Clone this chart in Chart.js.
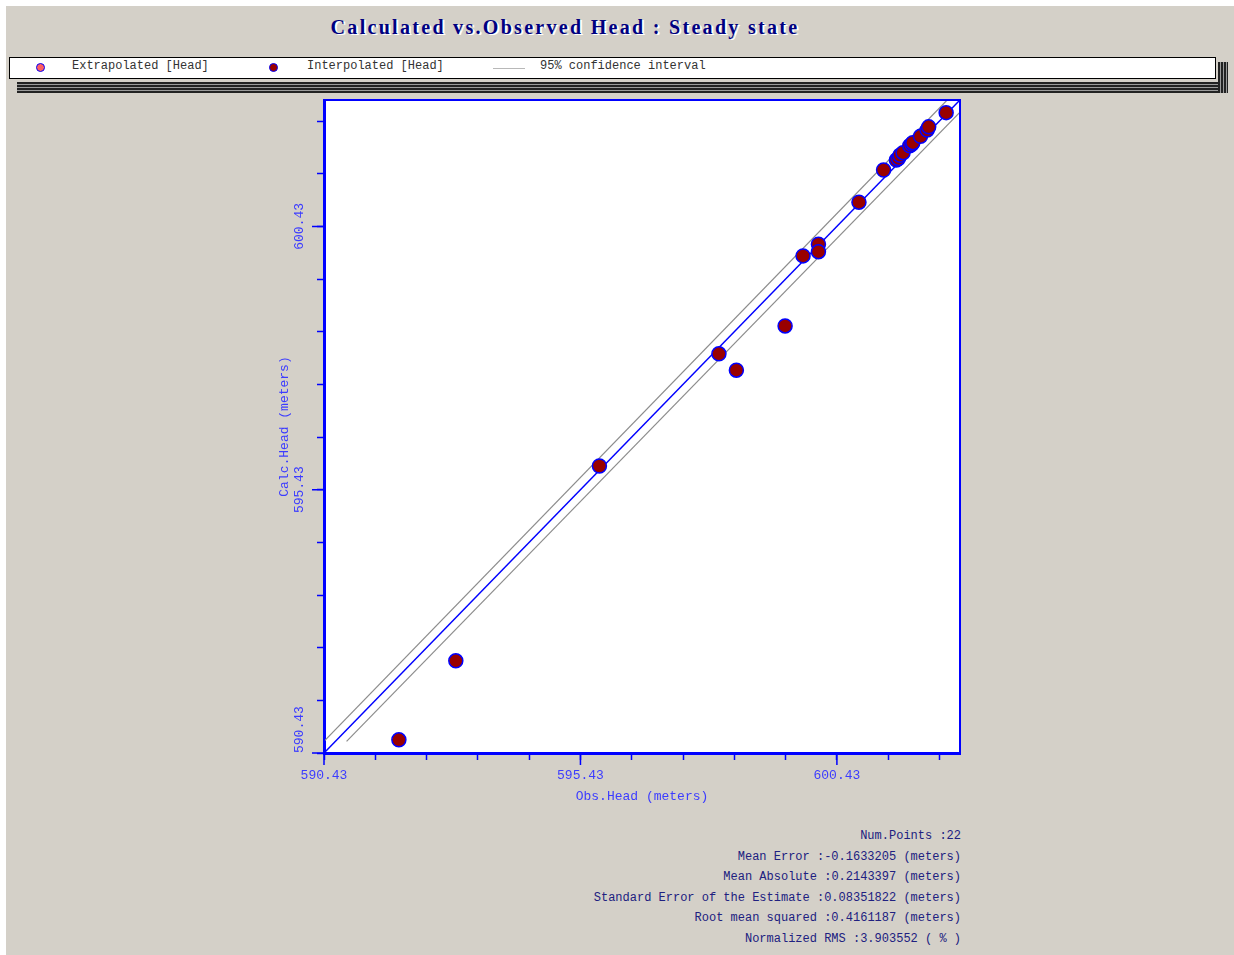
<!DOCTYPE html>
<html>
<head>
<meta charset="utf-8">
<title>Calculated vs. Observed Head : Steady state</title>
<script src="https://cdn.jsdelivr.net/npm/chart.js@4.4.0/dist/chart.umd.min.js"></script>
<style>
  body { margin: 0; background: #fff; width: 1234px; height: 955px; overflow: hidden; }
  #page { position: absolute; left: 6px; top: 6px; width: 1228px; height: 949px; background: #d4d0c8; }
  #chart { position: absolute; left: 0; top: 0; }
  #title { position: absolute; left: 265px; width: 600px; top: 14px; text-align: center;
    font: bold 20px "Liberation Serif", serif; line-height: 26px; letter-spacing: 2.3px; color: #000080; text-shadow: 2px 1px 0 #fff; }
  #legend { position: absolute; left: 9px; top: 57px; width: 1207px; height: 22px; box-sizing: border-box;
    border: 1px solid #000; background: #fff; font: 12px "Liberation Mono", monospace; color: #333; }
  #legend span { position: absolute; top: 1px; line-height: 14px; white-space: pre; }
  .dot { position: absolute; width: 7px; height: 7px; border-radius: 50%; border: 1.5px solid #0000ff; top: 5px; }
  .shadow-b { position: absolute; left: 17px; top: 82px; width: 1211px; height: 11px;
    background: repeating-linear-gradient(to bottom, #222 0 2px, #9a9a9a 2px 3px); }
  .shadow-r { position: absolute; left: 1218px; top: 62px; width: 10px; height: 31px;
    background: repeating-linear-gradient(to right, #222 0 2px, #9a9a9a 2px 3px); }
  #stats { position: absolute; right: 273px; top: 826px; text-align: right;
    font: 12px "Liberation Mono", monospace; line-height: 20.6px; color: #202080; white-space: pre; }
</style>
</head>
<body>
<div id="page"></div>
<div class="shadow-b"></div>
<div class="shadow-r"></div>
<div id="title">Calculated vs.Observed Head : Steady state</div>
<div id="legend">
  <div class="dot" style="left:26px; background:#ff6060;"></div>
  <span style="left:62px;">Extrapolated [Head]</span>
  <div class="dot" style="left:259px; background:#990000;"></div>
  <span style="left:297px;">Interpolated [Head]</span>
  <div style="position:absolute; left:483px; top:10px; width:32px; height:1px; background:#b8b8b8;"></div>
  <span style="left:530px;">95% confidence interval</span>
</div>
<div id="stats"></div>
<canvas id="chart" width="1234" height="955"></canvas>
<script>
// observed vs calculated head (meters)
const obsHead = [591.89, 593.00, 595.80, 598.13, 598.47, 599.42, 599.77, 600.07, 600.07, 600.86, 601.34,
                 601.59, 601.63, 601.66, 601.72, 601.85, 601.89, 601.91, 602.06, 602.19, 602.22, 602.56];
const calcHead = [590.68, 592.18, 595.88, 598.01, 597.70, 598.54, 599.87, 600.09, 599.95, 600.89, 601.50,
                  601.69, 601.72, 601.78, 601.83, 601.96, 601.99, 602.02, 602.14, 602.26, 602.32, 602.59];

// axis range and ticks
const axisMin = 590.43;
const axisMax = 602.83;
const tickValues = [590.43, 591.43, 592.43, 593.43, 594.43, 595.43, 596.43, 597.43, 598.43, 599.43, 600.43, 601.43, 602.43];
const majorTicks = [590.43, 595.43, 600.43];

// 1:1 line and 95% confidence band
const perfectX = [590.43, 602.83];
const perfectY = [590.43, 602.83];
const upperX = [590.43, 602.58];
const upperY = [590.65, 602.83];
const lowerX = [590.87, 602.83];
const lowerY = [590.65, 602.60];

const statLines = [
  'Num.Points :22',
  'Mean Error :-0.1633205 (meters)',
  'Mean Absolute :0.2143397 (meters)',
  'Standard Error of the Estimate :0.08351822 (meters)',
  'Root mean squared :0.4161187 (meters)',
  'Normalized RMS :3.903552 ( % )'
];
document.getElementById('stats').textContent = statLines.join('\n');

const axisColor = '#3c3cff';
const toPoints = (xs, ys) => xs.map((v, i) => ({ x: v, y: ys[i] }));

const framePlugin = {
  id: 'frame',
  beforeDraw(chart) {
    const { ctx, chartArea: a } = chart;
    ctx.save();
    ctx.fillStyle = '#fff';
    ctx.fillRect(a.left, a.top, a.right - a.left, a.bottom - a.top);
    ctx.restore();
  },
  afterDraw(chart) {
    const { ctx, chartArea: a, scales: { x, y } } = chart;
    ctx.save();
    ctx.strokeStyle = '#0000ff';
    ctx.lineWidth = 2;
    ctx.strokeRect(a.left, a.top, a.right - a.left, a.bottom - a.top);

    // longer ticks at labelled values
    ctx.lineWidth = 1.5;
    ctx.beginPath();
    majorTicks.forEach(v => {
      const px = x.getPixelForValue(v);
      const py = y.getPixelForValue(v);
      ctx.moveTo(px, a.bottom);
      ctx.lineTo(px, a.bottom + 12);
      ctx.moveTo(a.left, py);
      ctx.lineTo(a.left - 12, py);
    });
    ctx.stroke();

    // y labels are written sideways
    ctx.fillStyle = axisColor;
    ctx.font = '13px "Liberation Mono"';
    ctx.textBaseline = 'middle';
    majorTicks.forEach((v, i) => {
      ctx.save();
      ctx.translate(a.left - 24, y.getPixelForValue(v));
      ctx.rotate(-Math.PI / 2);
      ctx.textAlign = i === 0 ? 'left' : 'center';
      ctx.fillText(v.toFixed(2), 0, 0);
      ctx.restore();
    });
    ctx.restore();
  }
};

const axisFont = { family: '"Liberation Mono", monospace', size: 13 };

new Chart(document.getElementById('chart'), {
  type: 'scatter',
  data: {
    datasets: [
      {
        label: 'Interpolated [Head]',
        data: toPoints(obsHead, calcHead),
        pointRadius: 7,
        pointBackgroundColor: '#990000',
        pointBorderColor: '#0000ff',
        pointBorderWidth: 1.5,
        showLine: false
      },
      {
        label: '1:1',
        data: toPoints(perfectX, perfectY),
        showLine: true,
        borderColor: '#0000ff',
        borderWidth: 1.5,
        pointRadius: 0
      },
      {
        label: '95% confidence interval',
        data: toPoints(upperX, upperY),
        showLine: true,
        borderColor: '#8c8c8c',
        borderWidth: 1.2,
        pointRadius: 0
      },
      {
        label: '95% confidence interval (lower)',
        data: toPoints(lowerX, lowerY),
        showLine: true,
        borderColor: '#8c8c8c',
        borderWidth: 1.2,
        pointRadius: 0
      }
    ]
  },
  options: {
    responsive: false,
    animation: false,
    devicePixelRatio: 1,
    layout: { padding: { left: 274, top: 100, right: 274, bottom: 147 } },
    plugins: {
      legend: { display: false },
      tooltip: { enabled: false }
    },
    scales: {
      x: {
        type: 'linear',
        min: axisMin,
        max: axisMax,
        afterBuildTicks: s => { s.ticks = tickValues.map(v => ({ value: v })); },
        afterFit: s => { s.height = 55; },
        ticks: {
          autoSkip: false,
          maxRotation: 0,
          padding: 8,
          color: axisColor,
          font: axisFont,
          callback: v => majorTicks.includes(v) ? v.toFixed(2) : ''
        },
        grid: { drawOnChartArea: false, tickLength: 7, tickWidth: 1.5, tickColor: '#0000ff' },
        border: { color: '#0000ff', width: 3 },
        title: { display: true, text: 'Obs.Head (meters)', color: axisColor, font: axisFont, padding: { top: 0, bottom: 4 } }
      },
      y: {
        type: 'linear',
        min: axisMin,
        max: axisMax,
        afterBuildTicks: s => { s.ticks = tickValues.map(v => ({ value: v })); },
        afterFit: s => { s.width = 50; },
        ticks: { autoSkip: false, callback: () => '' },
        grid: { drawOnChartArea: false, tickLength: 7, tickWidth: 1.5, tickColor: '#0000ff' },
        border: { color: '#0000ff', width: 3 },
        title: { display: true, text: 'Calc.Head (meters)', color: axisColor, font: axisFont, padding: { top: 3, bottom: 0 } }
      }
    }
  },
  plugins: [framePlugin]
});
</script>
</body>
</html>
